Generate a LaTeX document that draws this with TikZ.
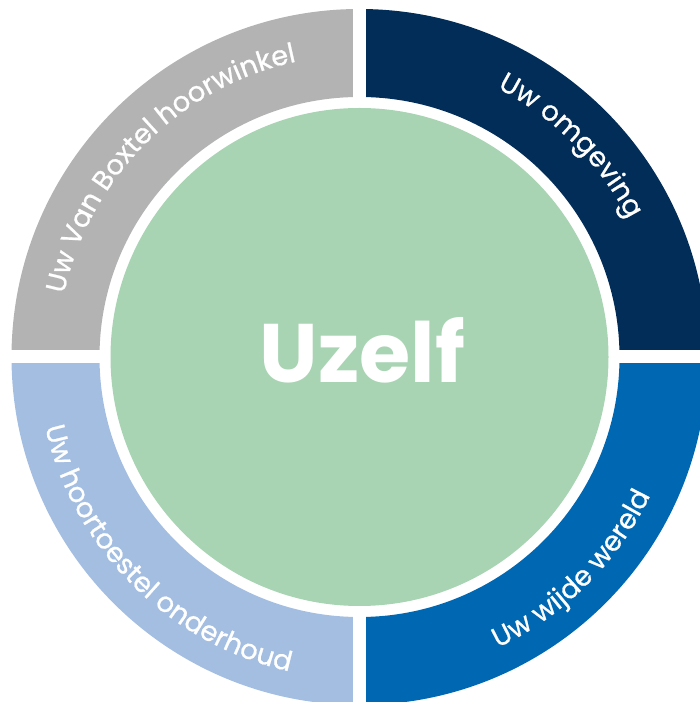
\documentclass[tikz,border=0pt]{standalone}
\usepackage{fontspec}
\setmainfont{Poppins}
\newfontface\ringfont[FakeBold=0.8]{Poppins}
\usetikzlibrary{decorations.text}
\definecolor{ringgray}{RGB}{179,179,179}
\definecolor{ringnavy}{RGB}{2,45,88}
\definecolor{ringblue}{RGB}{0,104,178}
\definecolor{ringlight}{RGB}{164,190,226}
\definecolor{coregreen}{RGB}{168,212,179}
\tikzset{
  ringlabel/.style={decorate, decoration={text along path, text align=center,
     text={|\color{white}\ringfont\fontsize{27.5}{27.5}\selectfont|#1}}}
}
\newcommand{\sector}[3]{% color, start, end
  \fill[#1] (#2:348) arc[start angle=#2, end angle=#3, radius=348]
     -- (#3:260) arc[start angle=#3, end angle=#2, radius=260] -- cycle;}
\begin{document}
\begin{tikzpicture}[x=1pt,y=1pt]
\useasboundingbox (0,0) rectangle (700,702);
\clip (0,0) rectangle (700,702);
\begin{scope}[shift={(359.5,345)}]
  \coordinate (c) at (0,0);
  \sector{ringnavy}{0}{90}
  \sector{ringgray}{90}{180}
  \sector{ringlight}{180}{270}
  \sector{ringblue}{270}{360}
  \fill[white] (-6.5,-360) rectangle (6.5,360);
  \fill[white] (-360,-6.5) rectangle (360,6.5);
  \fill[coregreen] (c) circle[radius=249];
  \node[anchor=base, text=white, inner sep=0pt,
        font=\bfseries\fontsize{83}{83}\selectfont] (uzelf) at (3,-26) {Uzelf};
  \path[ringlabel={Uw Van Boxtel hoorwinkel}] (179:302) arc[start angle=179, end angle=91, radius=302];
  \path[ringlabel={Uw omgeving}] (89:302) arc[start angle=89, end angle=1, radius=302];
  \path[ringlabel={Uw hoortoestel onderhoud}] (181:322) arc[start angle=181, end angle=269, radius=322];
  \path[ringlabel={Uw wijde wereld}] (271:322) arc[start angle=271, end angle=359, radius=322];
\end{scope}
\end{tikzpicture}
\end{document}
